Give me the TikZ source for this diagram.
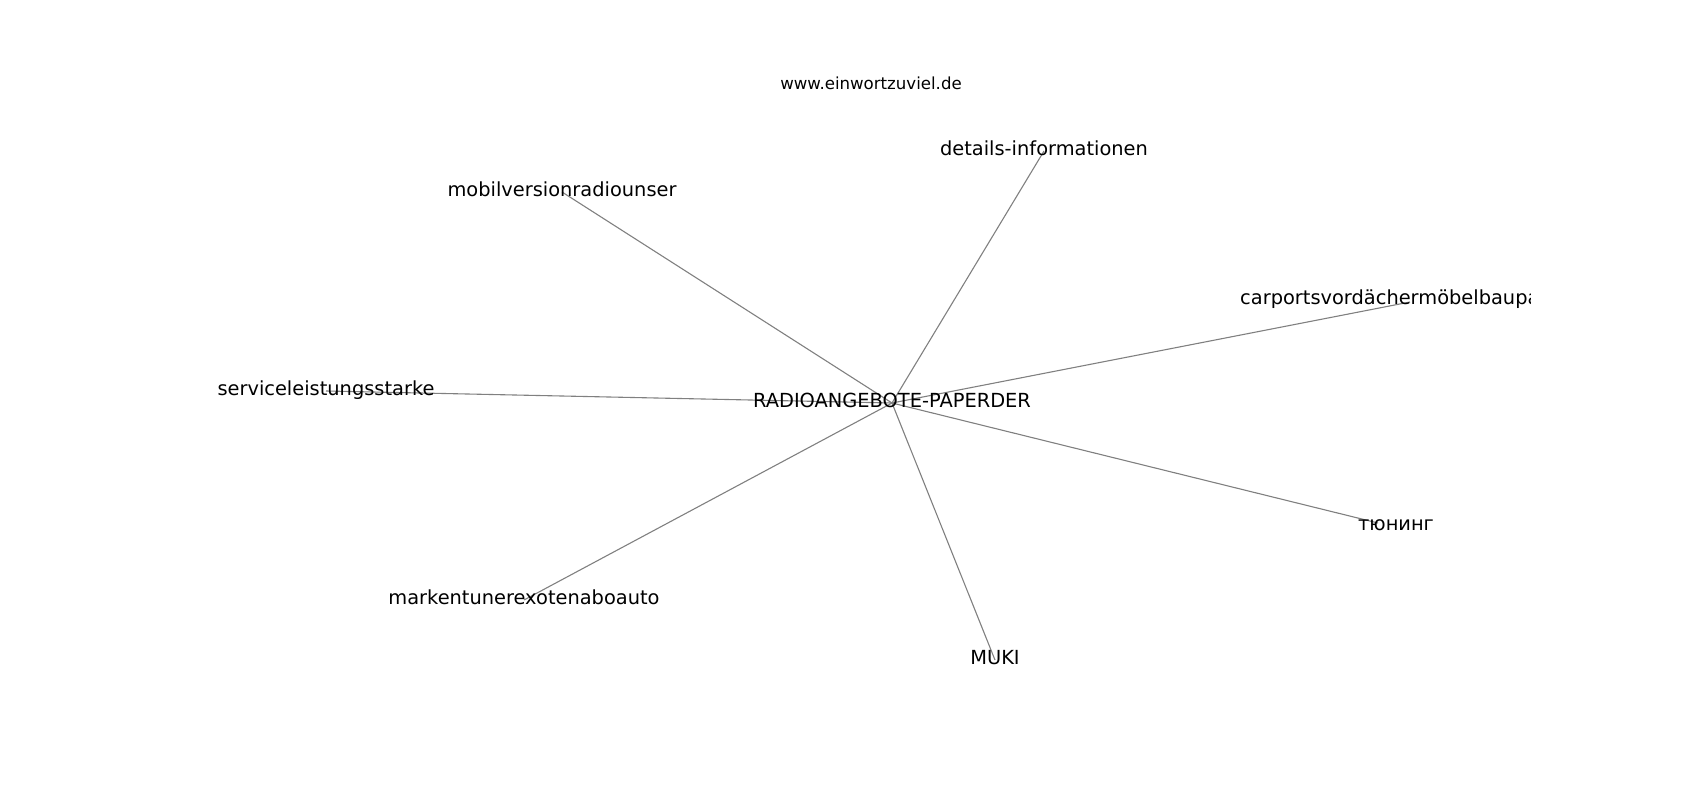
\documentclass[tikz,border=0pt]{standalone}
\usepackage{fontspec}
\setmainfont{DejaVu Sans}
\usetikzlibrary{backgrounds}
\begin{document}
\begin{tikzpicture}[x=1pt,y=-1pt,
  wordlabel/.style={inner sep=0pt,text height=0.9em,text depth=0.1em,font=\fontsize{19.4}{23}\selectfont},
  link/.style={draw=black!50,line width=1.1pt}]
  % fix the canvas
  \useasboundingbox (0,0) rectangle (1700,800);
  % draw site title
  \node at(871,83)[inner sep=0pt,font=\fontsize{16.6}{20}\selectfont](site){www.einwortzuviel.de};
  % draw centre word
  \node at(892,403)[wordlabel](radio){RADIOANGEBOTE-PAPERDER};
  % draw outer words
  \node at(1044,151)[wordlabel](details){details-informationen};
  \node at(562,192)[wordlabel](mobil){mobilversionradiounser};
  \node at(326,391)[wordlabel](service){serviceleistungsstarke};
  \node at(524,600)[wordlabel](marken){markentunerexotenaboauto};
  \node at(995,660)[wordlabel](muki){MUKI};
  \node at(1396,526)[wordlabel](tuning){тюнинг};
  \coordinate (tuningend) at (1378,523);
  % draw clipped word at the right edge
  \begin{scope}
    \clip (0,0) rectangle (1530,800);
    \node at(1240,300)[wordlabel,anchor=west](carports){carportsvordächermöbelbaupa};
  \end{scope}
  \coordinate (carportsend) at (1410,302);
  % draw edges behind the words
  \begin{pgfonlayer}{background}
    \foreach \leaf in {details,mobil,service,marken,muki}
      \draw[link] (radio.center) -- (\leaf.center);
    \draw[link] (radio.center) -- (tuningend);
    \draw[link] (radio.center) -- (carportsend);
  \end{pgfonlayer}
\end{tikzpicture}
\end{document}
